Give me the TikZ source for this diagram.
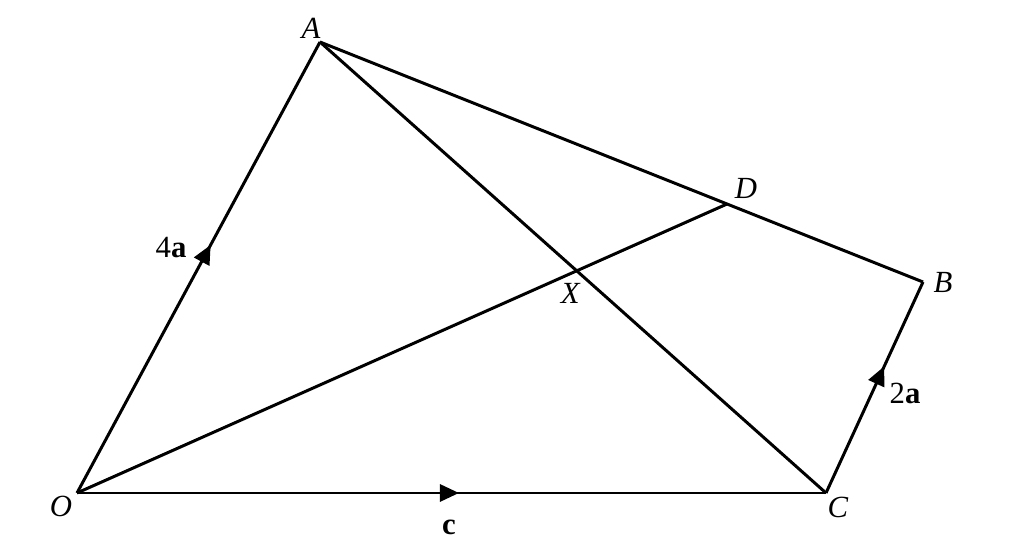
\documentclass[tikz,border=0pt]{standalone}
\usepackage{fontspec}
\setmainfont{Liberation Serif}
\usetikzlibrary{calc,intersections,arrows.meta,decorations.markings}

\tikzset{
  edge/.style={line width=1.7pt,line join=round},
  midarrow/.style={postaction={decorate,decoration={markings,
    mark=at position #1 with {\arrow{Triangle[length=0.38cm,width=0.34cm]}}}}},
  lbl/.style={font=\fontsize{17.5}{20}\selectfont,inner sep=0pt}
}

\begin{document}
\begin{tikzpicture}
  \useasboundingbox (0,0) rectangle (20.52,10.86);

  \coordinate (O) at (1.54,1.0);
  \coordinate (A) at (6.4,10.02);
  \coordinate (B) at (18.46,5.22);
  \coordinate (C) at (16.52,1.0);
  \coordinate (D) at ($ (A)!0.675!(B) $);

  \path[name path=od] (O) -- (D);
  \path[name path=ac] (A) -- (C);
  \path[name intersections={of=od and ac,by=X}];

  \draw[edge,midarrow=0.55] (O) -- (A);
  \draw[edge,midarrow=0.51] (O) -- (C);
  \draw[edge,midarrow=0.6] (C) -- (B);
  \draw[edge] (A) -- (B);
  \draw[edge] (A) -- (C);
  \draw[edge] (O) -- (D);

  \node[lbl] (lA) at ($ (A) + (-0.18,0.28) $) {\textit{A}};
  \node[lbl] (lB) at ($ (B) + (0.4,0) $) {\textit{B}};
  \node[lbl] (lC) at ($ (C) + (0.24,-0.28) $) {\textit{C}};
  \node[lbl] (lD) at ($ (D) + (0.38,0.32) $) {\textit{D}};
  \node[lbl] (lX) at ($ (X) + (-0.12,-0.46) $) {\textit{X}};
  \node[lbl] (lO) at ($ (O) + (-0.32,-0.26) $) {\textit{O}};
  \node[lbl] (la) at (3.42,5.9) {4\textbf{a}};
  \node[lbl] (lb) at (18.1,3.0) {2\textbf{a}};
  \node[lbl] (lc) at (8.98,0.32) {\textbf{c}};
\end{tikzpicture}
\end{document}
